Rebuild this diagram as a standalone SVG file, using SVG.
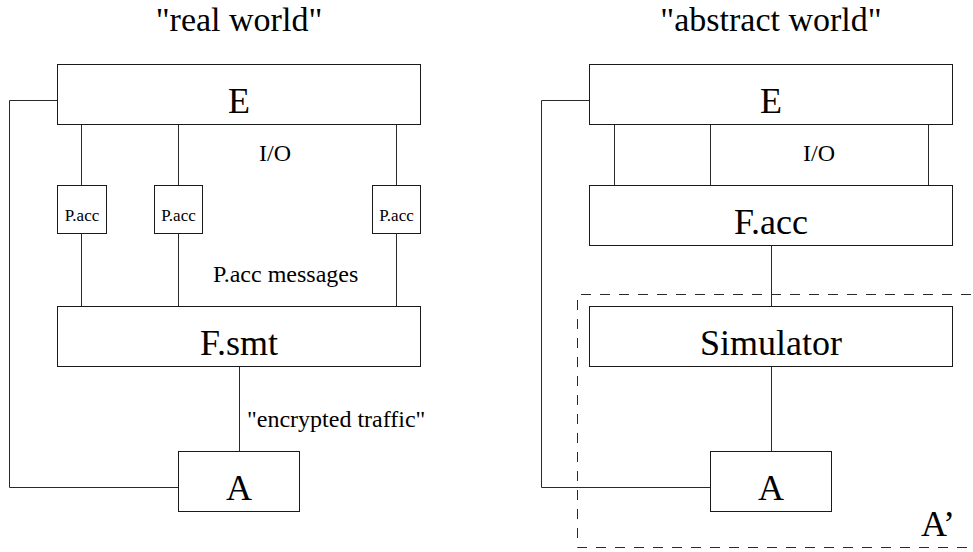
<svg xmlns="http://www.w3.org/2000/svg" width="973" height="552" viewBox="0 0 973 552">
<style>
.box{fill:#fff;stroke:#1a1a1a;stroke-width:1}
.ln{fill:none;stroke:#2a2a2a;stroke-width:1}
.dash{fill:none;stroke:#2a2a2a;stroke-width:1;stroke-dasharray:10,9}
.big{font-size:36px;text-anchor:middle}
.mid{font-size:24px}
.sm{font-size:17px;text-anchor:middle}
</style>
<rect width="973" height="552" fill="#fff"/>
<g font-family="'Liberation Serif', 'Tinos', 'Nimbus Roman', 'DejaVu Serif', serif" fill="#000">
<text class="big" x="239" y="31" style="font-size:34px">"real world"</text>
<text class="big" x="771" y="31" style="font-size:34px">"abstract world"</text>
<g id="connectors">
<path class="ln" d="M81.5,124.5V185.5M81.5,233.5V306.5"/>
<path class="ln" d="M178.5,124.5V185.5M178.5,233.5V306.5"/>
<path class="ln" d="M396.5,124.5V185.5M396.5,233.5V306.5"/>
<path class="ln" d="M239.5,366.5V451.5"/>
<path class="ln" d="M57.5,100.5H9.5V487.5H178.5"/>
<path class="ln" d="M614.5,124.5V185.5M710.5,124.5V185.5M928.5,124.5V185.5"/>
<path class="ln" d="M771.5,245.5V306.5M771.5,366.5V451.5"/>
<path class="ln" d="M589.5,100.5H541.5V487.5H710.5"/>
</g>
<text class="mid" x="275" y="161" text-anchor="middle">I/O</text>
<text class="mid" x="213" y="282">P.acc messages</text>
<text class="mid" x="247" y="427">"encrypted traffic"</text>
<text class="mid" x="819" y="161" text-anchor="middle">I/O</text>
<g id="E-real"><rect class="box" x="57.5" y="64.5" width="363" height="60"/><text class="big" x="239" y="113">E</text></g>
<g id="Pacc1"><rect class="box" x="57.5" y="185.5" width="49" height="48"/><text class="sm" x="82" y="221">P.acc</text></g>
<g id="Pacc2"><rect class="box" x="154.5" y="185.5" width="48" height="48"/><text class="sm" x="178.5" y="221">P.acc</text></g>
<g id="Pacc3"><rect class="box" x="372.5" y="185.5" width="48" height="48"/><text class="sm" x="396.5" y="221">P.acc</text></g>
<g id="Fsmt"><rect class="box" x="57.5" y="306.5" width="363" height="60"/><text class="big" x="239" y="355">F.smt</text></g>
<g id="A-real"><rect class="box" x="178.5" y="451.5" width="121" height="60"/><text class="big" x="239" y="500">A</text></g>
<g id="E-abstract"><rect class="box" x="589.5" y="64.5" width="363" height="60"/><text class="big" x="771" y="113">E</text></g>
<g id="Facc"><rect class="box" x="589.5" y="185.5" width="363" height="60"/><text class="big" x="771" y="234">F.acc</text></g>
<g id="Simulator"><rect class="box" x="589.5" y="306.5" width="363" height="60"/><text class="big" x="771" y="355">Simulator</text></g>
<g id="A-abstract"><rect class="box" x="710.5" y="451.5" width="121" height="60"/><text class="big" x="771" y="500">A</text></g>
<g id="Aprime"><path class="dash" d="M990,294.5H577.5V547.5H990"/><text x="921" y="536" font-size="36">A’</text></g>
</g>
</svg>
